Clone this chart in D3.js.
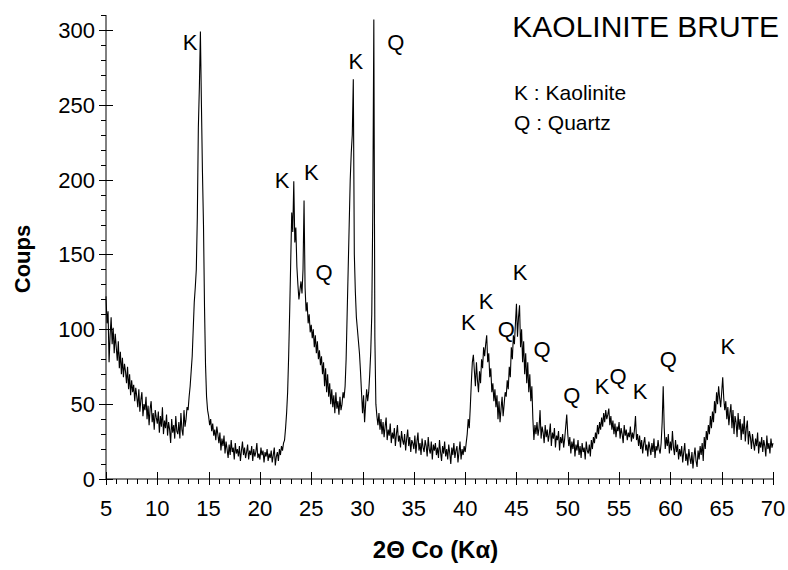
<!DOCTYPE html>
<html>
<head>
<meta charset="utf-8">
<script src="https://cdn.jsdelivr.net/npm/d3@7"></script>
<style>
  body { margin: 0; background: #fff; }
  text { font-family: "Liberation Sans", Arial, sans-serif; fill: #000; }
</style>
</head>
<body>
<div id="svg-container"></div>
<script>
// scan settings (2theta, degrees)
const angleStart = 5
const angleStep = 0.1

// counts, one row per degree (5.0 ... 69.9), then 70.0
const counts = [
  122, 104, 112, 78, 96, 108, 90, 101, 84, 97,
  88, 79, 92, 74, 85, 70, 81, 68, 77, 72,
  64, 75, 60, 70, 56, 66, 58, 63, 52, 61,
  55, 48, 60, 45, 53, 58, 42, 50, 46, 55,
  40, 49, 36, 47, 52, 38, 44, 33, 46, 41,
  37, 45, 31, 42, 35, 48, 30, 39, 34, 43,
  29, 38, 33, 24, 40, 31, 36, 27, 42, 32,
  30, 38, 27, 44, 33, 29, 46, 35, 40, 48,
  46, 55, 62, 72, 82, 100, 118, 128, 140, 175,
  235, 262, 299, 250, 205, 170, 115, 76, 55, 46,
  42, 36, 40, 32, 37, 29, 33, 26, 35, 30,
  24, 31, 19, 27, 22, 29, 17, 25, 20, 14,
  23, 16, 26, 18, 21, 13, 24, 17, 20, 15,
  22, 12, 19, 25, 16, 21, 14, 18, 23, 13,
  19, 16, 22, 12, 20, 15, 18, 24, 14, 17,
  13, 21, 16, 19, 11, 18, 15, 20, 12, 17,
  14, 19, 11, 16, 21, 9, 15, 18, 12, 20,
  16, 22, 19, 24, 26, 34, 44, 58, 82, 112,
  145, 178, 165, 199, 158, 168, 142, 130, 120, 126,
  132, 124, 140, 186, 128, 112, 118, 104, 110, 98,
  103, 94, 100, 88, 96, 84, 92, 80, 86, 76,
  82, 70, 78, 62, 74, 58, 70, 55, 64, 50,
  60, 48, 56, 44, 58, 47, 52, 43, 55, 46,
  50, 58, 54, 62, 80, 110, 140, 170, 200, 218,
  230, 267, 150, 125, 108, 100, 92, 84, 72, 58,
  44, 56, 38, 50, 60, 52, 58, 70, 85, 110,
  180, 307, 95, 50, 42, 36, 44, 33, 40, 30,
  38, 28, 35, 41, 26, 33, 29, 37, 24, 31,
  27, 34, 22, 30, 36, 25, 29, 21, 32, 26,
  23, 30, 19, 27, 33, 22, 28, 18, 26, 24,
  20, 29, 17, 25, 31, 19, 24, 16, 27, 21,
  18, 26, 22, 15, 28, 20, 17, 25, 13, 23,
  19, 24, 16, 21, 14, 26, 18, 12, 22, 17,
  25, 15, 20, 13, 23, 17, 10, 21, 16, 24,
  14, 19, 22, 11, 18, 25, 13, 20, 16, 22,
  18, 24, 30, 40, 34, 48, 64, 78, 83, 72,
  62, 78, 66, 58, 72, 64, 80, 74, 88, 82,
  90, 96, 78, 84, 68, 74, 58, 64, 52, 60,
  48, 56, 40, 52, 38, 47, 55, 42, 50, 58,
  55, 66, 60, 75, 68, 88, 80, 96, 90, 104,
  117, 95, 108, 116, 88, 100, 78, 92, 70, 84,
  64, 78, 58, 70, 52, 62, 40, 26, 36, 30,
  38, 29, 34, 46, 27, 35, 31, 24, 36, 28,
  33, 25, 30, 37, 22, 31, 27, 34, 21, 29,
  26, 32, 19, 28, 24, 30, 21, 27, 35, 43,
  30, 22, 28, 17, 25, 20, 27, 15, 23, 19,
  26, 16, 22, 14, 24, 18, 21, 13, 25, 19,
  17, 23, 15, 26, 20, 28, 24, 31, 27, 36,
  30, 38, 33, 41, 35, 44, 38, 46, 40, 43,
  47, 36, 42, 33, 39, 30, 37, 28, 35, 32,
  38, 27, 34, 30, 24, 36, 29, 33, 26, 31,
  28, 35, 25, 31, 27, 33, 42, 26, 30, 22,
  29, 20, 26, 17, 24, 28, 19, 23, 15, 25,
  21, 16, 24, 18, 27, 14, 22, 19, 26, 20,
  17, 24, 38, 62, 34, 20, 28, 22, 30, 17,
  25, 19, 32, 21, 16, 26, 18, 23, 13, 20,
  15, 22, 11, 18, 24, 12, 17, 9, 20, 14,
  10, 18, 7, 15, 21, 12, 8, 19, 13, 22,
  16, 24, 12, 28, 20, 32, 26, 36, 30, 42,
  34, 45, 38, 52, 44, 58, 50, 62, 54, 48,
  58, 68, 54, 46, 52, 40, 48, 36, 44, 50,
  34, 46, 30, 42, 38, 28, 44, 33, 40, 26,
  37, 30, 42, 25, 34, 39, 23, 32, 28, 20,
  30, 24, 19, 27, 22, 31, 17, 25, 21, 28,
  18, 26, 22, 15, 29, 20, 24, 17, 27, 21,
  24
]

// peak labels: phase letter, 2theta, counts where the letter sits
const peakText  = ['K', 'K', 'Q', 'K', 'K', 'Q', 'K', 'K', 'Q', 'K', 'Q', 'Q', 'K', 'Q', 'K', 'Q', 'K']
const peakAngle = [13.2, 29.35, 33.25, 22.15, 25.0, 26.25, 40.3, 42.05, 44.0, 45.35, 47.5, 50.4, 53.35, 54.9, 57.05, 59.8, 65.6]
const peakCount = [292, 279, 292, 200, 205, 138, 105, 119, 100, 138, 87, 56, 62, 69, 59, 80, 89]

const xTicks = d3.range(5, 71, 5)
const yTicks = d3.range(0, 301, 50)

const width = 788, height = 570
const margin = { left: 106, right: 15, top: 15, bottom: 91 }

const svg = d3.select('#svg-container')
    .append('svg')
    .attr('width', width)
    .attr('height', height)

const x = d3.scaleLinear()
    .domain([5, 70])
    .range([margin.left, width - margin.right])
const y = d3.scaleLinear()
    .domain([0, 310])
    .range([height - margin.bottom, margin.top])

const data = counts.map((c, i) => ({ a: angleStart + i * angleStep, c: c }))

// pattern
svg.append('path')
    .datum(data)
    .attr('fill', 'none')
    .attr('stroke', '#000')
    .attr('stroke-width', 1.1)
    .attr('d', d3.line().x(d => x(d.a)).y(d => y(d.c)))

// x axis: minor ticks down, major ticks crossing
const y0 = y(0)
const xAxis = svg.append('g').attr('stroke', '#000').attr('stroke-width', 1)
xAxis.append('line')
    .attr('x1', x(5)).attr('x2', x(70))
    .attr('y1', y0).attr('y2', y0)
xAxis.selectAll('.minor')
    .data(d3.range(5, 71, 1))
    .enter().append('line')
    .attr('x1', d => Math.round(x(d)) + 0.5).attr('x2', d => Math.round(x(d)) + 0.5)
    .attr('y1', y0).attr('y2', y0 + 5)
xAxis.selectAll('.major')
    .data(xTicks)
    .enter().append('line')
    .attr('x1', d => Math.round(x(d)) + 0.5).attr('x2', d => Math.round(x(d)) + 0.5)
    .attr('y1', y0 - 7).attr('y2', y0 + 6)
svg.selectAll('.xlab')
    .data(xTicks)
    .enter().append('text')
    .attr('x', d => x(d))
    .attr('y', y0 + 37)
    .attr('text-anchor', 'middle')
    .attr('font-size', 22)
    .text(d => d)

// y axis: minor ticks left, major ticks crossing
const x0 = x(5)
const yAxis = svg.append('g').attr('stroke', '#000').attr('stroke-width', 1)
yAxis.append('line')
    .attr('x1', x0).attr('x2', x0)
    .attr('y1', y(0)).attr('y2', y(310))
yAxis.selectAll('.minor')
    .data(d3.range(0, 311, 10))
    .enter().append('line')
    .attr('x1', x0 - 5).attr('x2', x0)
    .attr('y1', d => Math.round(y(d)) + 0.5).attr('y2', d => Math.round(y(d)) + 0.5)
yAxis.selectAll('.major')
    .data(yTicks)
    .enter().append('line')
    .attr('x1', x0 - 7).attr('x2', x0 + 7)
    .attr('y1', d => Math.round(y(d)) + 0.5).attr('y2', d => Math.round(y(d)) + 0.5)
svg.selectAll('.ylab')
    .data(yTicks)
    .enter().append('text')
    .attr('x', x0 - 11)
    .attr('y', d => y(d))
    .attr('dy', '0.36em')
    .attr('text-anchor', 'end')
    .attr('font-size', 22)
    .text(d => d)

// axis titles
svg.append('text')
    .attr('transform', `translate(30, ${y(155) + 12}) rotate(-90)`)
    .attr('text-anchor', 'middle')
    .attr('font-size', 22)
    .attr('font-weight', 'bold')
    .text('Coups')
svg.append('text')
    .attr('x', (x(5) + x(70)) / 2 - 4)
    .attr('y', 558)
    .attr('text-anchor', 'middle')
    .attr('font-size', 24)
    .attr('font-weight', 'bold')
    .text('2Θ Co (Kα)')

// peak letters
svg.selectAll('.peak')
    .data(peakText)
    .enter().append('text')
    .attr('x', (d, i) => x(peakAngle[i]))
    .attr('y', (d, i) => y(peakCount[i]))
    .attr('dy', '0.36em')
    .attr('text-anchor', 'middle')
    .attr('font-size', 22)
    .text(d => d)

// title and key
svg.append('text')
    .attr('x', 779).attr('y', 37)
    .attr('text-anchor', 'end')
    .attr('font-size', 30)
    .text('KAOLINITE BRUTE')
svg.append('text')
    .attr('x', 514).attr('y', 100)
    .attr('font-size', 21)
    .text('K : Kaolinite')
svg.append('text')
    .attr('x', 514).attr('y', 130)
    .attr('font-size', 21)
    .text('Q : Quartz')
</script>
</body>
</html>
